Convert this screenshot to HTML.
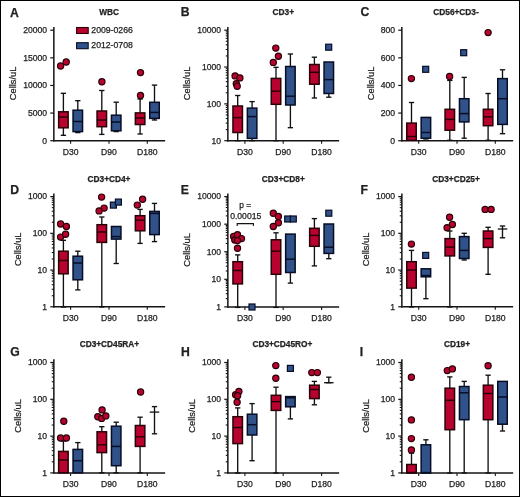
<!DOCTYPE html>
<html><head><meta charset="utf-8"><style>
html,body{margin:0;padding:0;background:#fff;}
body{width:520px;height:497px;overflow:hidden;}
svg{display:block;will-change:transform;}
text{font-family:"Liberation Sans",sans-serif;fill:#222;stroke:#222;stroke-width:0.25px;}
</style></head><body>
<svg width="520" height="497" viewBox="0 0 520 497">
<rect x="0" y="0" width="520" height="497" fill="#fff"/>
<g>
<text x="10" y="16.5" font-size="12.2" text-anchor="start" font-weight="bold" >A</text>
<text x="109.2" y="14.6" font-size="8.3" text-anchor="middle" font-weight="bold" >WBC</text>
<text x="0" y="0" font-size="9.3" text-anchor="middle" transform="translate(16.2,83.4) rotate(-90)">Cells/uL</text>
<line x1="53.85" y1="27" x2="53.85" y2="141.4" stroke="#141414" stroke-width="1.5"/>
<line x1="53.15" y1="140.7" x2="165.15" y2="140.7" stroke="#141414" stroke-width="1.5"/>
<line x1="70.6" y1="140.7" x2="70.6" y2="143.7" stroke="#141414" stroke-width="1.1"/>
<text x="70.6" y="154.7" font-size="8.6" text-anchor="middle" font-weight="normal" >D30</text>
<line x1="109" y1="140.7" x2="109" y2="143.7" stroke="#141414" stroke-width="1.1"/>
<text x="109" y="154.7" font-size="8.6" text-anchor="middle" font-weight="normal" >D90</text>
<line x1="147.3" y1="140.7" x2="147.3" y2="143.7" stroke="#141414" stroke-width="1.1"/>
<text x="147.3" y="154.7" font-size="8.6" text-anchor="middle" font-weight="normal" >D180</text>
<line x1="50.25" y1="140.7" x2="53.85" y2="140.7" stroke="#141414" stroke-width="1.2"/>
<text x="47.05" y="143.5" font-size="8.6" text-anchor="end" font-weight="normal" >0</text>
<line x1="50.25" y1="113.07" x2="53.85" y2="113.07" stroke="#141414" stroke-width="1.2"/>
<text x="47.05" y="115.87" font-size="8.6" text-anchor="end" font-weight="normal" >5000</text>
<line x1="50.25" y1="85.45" x2="53.85" y2="85.45" stroke="#141414" stroke-width="1.2"/>
<text x="47.05" y="88.25" font-size="8.6" text-anchor="end" font-weight="normal" >10000</text>
<line x1="50.25" y1="57.83" x2="53.85" y2="57.83" stroke="#141414" stroke-width="1.2"/>
<text x="47.05" y="60.62" font-size="8.6" text-anchor="end" font-weight="normal" >15000</text>
<line x1="50.25" y1="30.2" x2="53.85" y2="30.2" stroke="#141414" stroke-width="1.2"/>
<text x="47.05" y="33" font-size="8.6" text-anchor="end" font-weight="normal" >20000</text>
<line x1="63.4" y1="93.3" x2="63.4" y2="111.8" stroke="#111" stroke-width="1.35"/>
<line x1="60.75" y1="93.3" x2="66.05" y2="93.3" stroke="#111" stroke-width="1.35"/>
<line x1="63.4" y1="127.8" x2="63.4" y2="135.3" stroke="#111" stroke-width="1.35"/>
<line x1="60.75" y1="135.3" x2="66.05" y2="135.3" stroke="#111" stroke-width="1.35"/>
<rect x="58.65" y="111.8" width="9.5" height="16" fill="#b8032f" stroke="#2a0008" stroke-width="1.5"/>
<line x1="58.65" y1="117" x2="68.15" y2="117" stroke="#2a0008" stroke-width="1.5"/>
<circle cx="60.6" cy="66" r="3.1" fill="#b8032f" stroke="#2a0008" stroke-width="1.2"/>
<circle cx="66.2" cy="62" r="3.1" fill="#b8032f" stroke="#2a0008" stroke-width="1.2"/>
<line x1="77.8" y1="100.7" x2="77.8" y2="110.2" stroke="#111" stroke-width="1.35"/>
<line x1="75.15" y1="100.7" x2="80.45" y2="100.7" stroke="#111" stroke-width="1.35"/>
<line x1="77.8" y1="131.6" x2="77.8" y2="132.6" stroke="#111" stroke-width="1.35"/>
<line x1="75.15" y1="132.6" x2="80.45" y2="132.6" stroke="#111" stroke-width="1.35"/>
<rect x="73.05" y="110.2" width="9.5" height="21.4" fill="#315288" stroke="#070d26" stroke-width="1.5"/>
<line x1="73.05" y1="121.5" x2="82.55" y2="121.5" stroke="#070d26" stroke-width="1.5"/>
<line x1="101.8" y1="90.5" x2="101.8" y2="111" stroke="#111" stroke-width="1.35"/>
<line x1="99.15" y1="90.5" x2="104.45" y2="90.5" stroke="#111" stroke-width="1.35"/>
<line x1="101.8" y1="126.7" x2="101.8" y2="134.4" stroke="#111" stroke-width="1.35"/>
<line x1="99.15" y1="134.4" x2="104.45" y2="134.4" stroke="#111" stroke-width="1.35"/>
<rect x="97.05" y="111" width="9.5" height="15.7" fill="#b8032f" stroke="#2a0008" stroke-width="1.5"/>
<line x1="97.05" y1="120" x2="106.55" y2="120" stroke="#2a0008" stroke-width="1.5"/>
<circle cx="101.9" cy="81.8" r="3.1" fill="#b8032f" stroke="#2a0008" stroke-width="1.2"/>
<line x1="116.2" y1="102.2" x2="116.2" y2="115.2" stroke="#111" stroke-width="1.35"/>
<line x1="113.55" y1="102.2" x2="118.85" y2="102.2" stroke="#111" stroke-width="1.35"/>
<line x1="116.2" y1="130.8" x2="116.2" y2="131.6" stroke="#111" stroke-width="1.35"/>
<line x1="113.55" y1="131.6" x2="118.85" y2="131.6" stroke="#111" stroke-width="1.35"/>
<rect x="111.45" y="115.2" width="9.5" height="15.6" fill="#315288" stroke="#070d26" stroke-width="1.5"/>
<line x1="111.45" y1="122" x2="120.95" y2="122" stroke="#070d26" stroke-width="1.5"/>
<line x1="140.1" y1="99" x2="140.1" y2="112.9" stroke="#111" stroke-width="1.35"/>
<line x1="137.45" y1="99" x2="142.75" y2="99" stroke="#111" stroke-width="1.35"/>
<line x1="140.1" y1="124.5" x2="140.1" y2="134" stroke="#111" stroke-width="1.35"/>
<line x1="137.45" y1="134" x2="142.75" y2="134" stroke="#111" stroke-width="1.35"/>
<rect x="135.35" y="112.9" width="9.5" height="11.6" fill="#b8032f" stroke="#2a0008" stroke-width="1.5"/>
<line x1="135.35" y1="118" x2="144.85" y2="118" stroke="#2a0008" stroke-width="1.5"/>
<circle cx="140.5" cy="95.5" r="3.1" fill="#b8032f" stroke="#2a0008" stroke-width="1.2"/>
<circle cx="140.5" cy="72.6" r="3.1" fill="#b8032f" stroke="#2a0008" stroke-width="1.2"/>
<line x1="154.5" y1="85.1" x2="154.5" y2="102.3" stroke="#111" stroke-width="1.35"/>
<line x1="151.85" y1="85.1" x2="157.15" y2="85.1" stroke="#111" stroke-width="1.35"/>
<line x1="154.5" y1="118.4" x2="154.5" y2="120" stroke="#111" stroke-width="1.35"/>
<line x1="151.85" y1="120" x2="157.15" y2="120" stroke="#111" stroke-width="1.35"/>
<rect x="149.75" y="102.3" width="9.5" height="16.1" fill="#315288" stroke="#070d26" stroke-width="1.5"/>
<line x1="149.75" y1="112.4" x2="159.25" y2="112.4" stroke="#070d26" stroke-width="1.5"/>
<rect x="76.6" y="27.5" width="11.6" height="6" fill="#b8032f" stroke="#2a0008" stroke-width="1.1"/>
<rect x="76.6" y="42.7" width="11.6" height="6" fill="#315288" stroke="#070d26" stroke-width="1.1"/>
<text x="91.3" y="33.1" font-size="8.7">2009-0266</text>
<text x="91.3" y="48.3" font-size="8.7">2012-0708</text>
</g>
<g>
<text x="180.7" y="16.4" font-size="12.2" text-anchor="start" font-weight="bold" >B</text>
<text x="283.3" y="14.6" font-size="8.3" text-anchor="middle" font-weight="bold" >CD3+</text>
<text x="0" y="0" font-size="9.3" text-anchor="middle" transform="translate(190.1,83.4) rotate(-90)">Cells/uL</text>
<line x1="227.85" y1="27" x2="227.85" y2="141.4" stroke="#141414" stroke-width="1.5"/>
<line x1="227.15" y1="140.7" x2="339.15" y2="140.7" stroke="#141414" stroke-width="1.5"/>
<line x1="244.9" y1="140.7" x2="244.9" y2="143.7" stroke="#141414" stroke-width="1.1"/>
<text x="244.9" y="154.7" font-size="8.6" text-anchor="middle" font-weight="normal" >D30</text>
<line x1="283.2" y1="140.7" x2="283.2" y2="143.7" stroke="#141414" stroke-width="1.1"/>
<text x="283.2" y="154.7" font-size="8.6" text-anchor="middle" font-weight="normal" >D90</text>
<line x1="321.6" y1="140.7" x2="321.6" y2="143.7" stroke="#141414" stroke-width="1.1"/>
<text x="321.6" y="154.7" font-size="8.6" text-anchor="middle" font-weight="normal" >D180</text>
<line x1="224.25" y1="140.7" x2="227.85" y2="140.7" stroke="#141414" stroke-width="1.2"/>
<text x="221.05" y="143.5" font-size="8.6" text-anchor="end" font-weight="normal" >10</text>
<line x1="225.75" y1="129.61" x2="227.85" y2="129.61" stroke="#141414" stroke-width="1.1"/>
<line x1="225.75" y1="123.13" x2="227.85" y2="123.13" stroke="#141414" stroke-width="1.1"/>
<line x1="225.75" y1="118.52" x2="227.85" y2="118.52" stroke="#141414" stroke-width="1.1"/>
<line x1="225.75" y1="114.95" x2="227.85" y2="114.95" stroke="#141414" stroke-width="1.1"/>
<line x1="225.75" y1="112.04" x2="227.85" y2="112.04" stroke="#141414" stroke-width="1.1"/>
<line x1="225.75" y1="109.57" x2="227.85" y2="109.57" stroke="#141414" stroke-width="1.1"/>
<line x1="225.75" y1="107.44" x2="227.85" y2="107.44" stroke="#141414" stroke-width="1.1"/>
<line x1="225.75" y1="105.55" x2="227.85" y2="105.55" stroke="#141414" stroke-width="1.1"/>
<line x1="224.25" y1="103.87" x2="227.85" y2="103.87" stroke="#141414" stroke-width="1.2"/>
<text x="221.05" y="106.67" font-size="8.6" text-anchor="end" font-weight="normal" >100</text>
<line x1="225.75" y1="92.78" x2="227.85" y2="92.78" stroke="#141414" stroke-width="1.1"/>
<line x1="225.75" y1="86.29" x2="227.85" y2="86.29" stroke="#141414" stroke-width="1.1"/>
<line x1="225.75" y1="81.69" x2="227.85" y2="81.69" stroke="#141414" stroke-width="1.1"/>
<line x1="225.75" y1="78.12" x2="227.85" y2="78.12" stroke="#141414" stroke-width="1.1"/>
<line x1="225.75" y1="75.2" x2="227.85" y2="75.2" stroke="#141414" stroke-width="1.1"/>
<line x1="225.75" y1="72.74" x2="227.85" y2="72.74" stroke="#141414" stroke-width="1.1"/>
<line x1="225.75" y1="70.6" x2="227.85" y2="70.6" stroke="#141414" stroke-width="1.1"/>
<line x1="225.75" y1="68.72" x2="227.85" y2="68.72" stroke="#141414" stroke-width="1.1"/>
<line x1="224.25" y1="67.03" x2="227.85" y2="67.03" stroke="#141414" stroke-width="1.2"/>
<text x="221.05" y="69.83" font-size="8.6" text-anchor="end" font-weight="normal" >1000</text>
<line x1="225.75" y1="55.95" x2="227.85" y2="55.95" stroke="#141414" stroke-width="1.1"/>
<line x1="225.75" y1="49.46" x2="227.85" y2="49.46" stroke="#141414" stroke-width="1.1"/>
<line x1="225.75" y1="44.86" x2="227.85" y2="44.86" stroke="#141414" stroke-width="1.1"/>
<line x1="225.75" y1="41.29" x2="227.85" y2="41.29" stroke="#141414" stroke-width="1.1"/>
<line x1="225.75" y1="38.37" x2="227.85" y2="38.37" stroke="#141414" stroke-width="1.1"/>
<line x1="225.75" y1="35.91" x2="227.85" y2="35.91" stroke="#141414" stroke-width="1.1"/>
<line x1="225.75" y1="33.77" x2="227.85" y2="33.77" stroke="#141414" stroke-width="1.1"/>
<line x1="225.75" y1="31.89" x2="227.85" y2="31.89" stroke="#141414" stroke-width="1.1"/>
<line x1="224.25" y1="30.2" x2="227.85" y2="30.2" stroke="#141414" stroke-width="1.2"/>
<text x="221.05" y="33" font-size="8.6" text-anchor="end" font-weight="normal" >10000</text>
<line x1="237.7" y1="95.5" x2="237.7" y2="106" stroke="#111" stroke-width="1.35"/>
<line x1="235.05" y1="95.5" x2="240.35" y2="95.5" stroke="#111" stroke-width="1.35"/>
<line x1="237.7" y1="132.5" x2="237.7" y2="140.7" stroke="#111" stroke-width="1.35"/>
<line x1="235.05" y1="140.7" x2="240.35" y2="140.7" stroke="#111" stroke-width="1.35"/>
<rect x="232.95" y="106" width="9.5" height="26.5" fill="#b8032f" stroke="#2a0008" stroke-width="1.5"/>
<line x1="232.95" y1="117.6" x2="242.45" y2="117.6" stroke="#2a0008" stroke-width="1.5"/>
<circle cx="235.1" cy="75.9" r="3.1" fill="#b8032f" stroke="#2a0008" stroke-width="1.2"/>
<circle cx="239.9" cy="77.9" r="3.1" fill="#b8032f" stroke="#2a0008" stroke-width="1.2"/>
<circle cx="236.3" cy="83.7" r="3.1" fill="#b8032f" stroke="#2a0008" stroke-width="1.2"/>
<circle cx="237.2" cy="86.3" r="3.1" fill="#b8032f" stroke="#2a0008" stroke-width="1.2"/>
<line x1="252.1" y1="101.6" x2="252.1" y2="108.1" stroke="#111" stroke-width="1.35"/>
<line x1="249.45" y1="101.6" x2="254.75" y2="101.6" stroke="#111" stroke-width="1.35"/>
<line x1="252.1" y1="138.4" x2="252.1" y2="140.7" stroke="#111" stroke-width="1.35"/>
<line x1="249.45" y1="140.7" x2="254.75" y2="140.7" stroke="#111" stroke-width="1.35"/>
<rect x="247.35" y="108.1" width="9.5" height="30.3" fill="#315288" stroke="#070d26" stroke-width="1.5"/>
<line x1="247.35" y1="116.6" x2="256.85" y2="116.6" stroke="#070d26" stroke-width="1.5"/>
<line x1="276" y1="67.3" x2="276" y2="78.4" stroke="#111" stroke-width="1.35"/>
<line x1="273.35" y1="67.3" x2="278.65" y2="67.3" stroke="#111" stroke-width="1.35"/>
<line x1="276" y1="104.3" x2="276" y2="140.7" stroke="#111" stroke-width="1.35"/>
<line x1="273.35" y1="140.7" x2="278.65" y2="140.7" stroke="#111" stroke-width="1.35"/>
<rect x="271.25" y="78.4" width="9.5" height="25.9" fill="#b8032f" stroke="#2a0008" stroke-width="1.5"/>
<line x1="271.25" y1="91.2" x2="280.75" y2="91.2" stroke="#2a0008" stroke-width="1.5"/>
<circle cx="275.8" cy="48.1" r="3.1" fill="#b8032f" stroke="#2a0008" stroke-width="1.2"/>
<circle cx="278.4" cy="56.2" r="3.1" fill="#b8032f" stroke="#2a0008" stroke-width="1.2"/>
<circle cx="273.3" cy="62.4" r="3.1" fill="#b8032f" stroke="#2a0008" stroke-width="1.2"/>
<line x1="290.4" y1="54" x2="290.4" y2="66.5" stroke="#111" stroke-width="1.35"/>
<line x1="287.75" y1="54" x2="293.05" y2="54" stroke="#111" stroke-width="1.35"/>
<line x1="290.4" y1="105" x2="290.4" y2="127.7" stroke="#111" stroke-width="1.35"/>
<line x1="287.75" y1="127.7" x2="293.05" y2="127.7" stroke="#111" stroke-width="1.35"/>
<rect x="285.65" y="66.5" width="9.5" height="38.5" fill="#315288" stroke="#070d26" stroke-width="1.5"/>
<line x1="285.65" y1="96.2" x2="295.15" y2="96.2" stroke="#070d26" stroke-width="1.5"/>
<line x1="314.4" y1="57.2" x2="314.4" y2="64.5" stroke="#111" stroke-width="1.35"/>
<line x1="311.75" y1="57.2" x2="317.05" y2="57.2" stroke="#111" stroke-width="1.35"/>
<line x1="314.4" y1="84.2" x2="314.4" y2="98" stroke="#111" stroke-width="1.35"/>
<line x1="311.75" y1="98" x2="317.05" y2="98" stroke="#111" stroke-width="1.35"/>
<rect x="309.65" y="64.5" width="9.5" height="19.7" fill="#b8032f" stroke="#2a0008" stroke-width="1.5"/>
<line x1="309.65" y1="72.3" x2="319.15" y2="72.3" stroke="#2a0008" stroke-width="1.5"/>
<line x1="328.8" y1="93.5" x2="328.8" y2="97.2" stroke="#111" stroke-width="1.35"/>
<line x1="326.15" y1="97.2" x2="331.45" y2="97.2" stroke="#111" stroke-width="1.35"/>
<rect x="324.05" y="62" width="9.5" height="31.5" fill="#315288" stroke="#070d26" stroke-width="1.5"/>
<line x1="324.05" y1="79.6" x2="333.55" y2="79.6" stroke="#070d26" stroke-width="1.5"/>
<rect x="325.7" y="44.2" width="6.0" height="6.0" fill="#315288" stroke="#070d26" stroke-width="1.2"/>
</g>
<g>
<text x="360.5" y="16.3" font-size="12.2" text-anchor="start" font-weight="bold" >C</text>
<text x="456" y="14.6" font-size="8.3" text-anchor="middle" font-weight="bold" >CD56+CD3-</text>
<text x="0" y="0" font-size="9.3" text-anchor="middle" transform="translate(373.9,83.4) rotate(-90)">Cells/uL</text>
<line x1="401.85" y1="27" x2="401.85" y2="141.4" stroke="#141414" stroke-width="1.5"/>
<line x1="401.15" y1="140.7" x2="513.15" y2="140.7" stroke="#141414" stroke-width="1.5"/>
<line x1="418.7" y1="140.7" x2="418.7" y2="143.7" stroke="#141414" stroke-width="1.1"/>
<text x="418.7" y="154.7" font-size="8.6" text-anchor="middle" font-weight="normal" >D30</text>
<line x1="457" y1="140.7" x2="457" y2="143.7" stroke="#141414" stroke-width="1.1"/>
<text x="457" y="154.7" font-size="8.6" text-anchor="middle" font-weight="normal" >D90</text>
<line x1="495.3" y1="140.7" x2="495.3" y2="143.7" stroke="#141414" stroke-width="1.1"/>
<text x="495.3" y="154.7" font-size="8.6" text-anchor="middle" font-weight="normal" >D180</text>
<line x1="398.25" y1="140.7" x2="401.85" y2="140.7" stroke="#141414" stroke-width="1.2"/>
<text x="395.05" y="143.5" font-size="8.6" text-anchor="end" font-weight="normal" >0</text>
<line x1="398.25" y1="113.07" x2="401.85" y2="113.07" stroke="#141414" stroke-width="1.2"/>
<text x="395.05" y="115.87" font-size="8.6" text-anchor="end" font-weight="normal" >200</text>
<line x1="398.25" y1="85.45" x2="401.85" y2="85.45" stroke="#141414" stroke-width="1.2"/>
<text x="395.05" y="88.25" font-size="8.6" text-anchor="end" font-weight="normal" >400</text>
<line x1="398.25" y1="57.83" x2="401.85" y2="57.83" stroke="#141414" stroke-width="1.2"/>
<text x="395.05" y="60.62" font-size="8.6" text-anchor="end" font-weight="normal" >600</text>
<line x1="398.25" y1="30.2" x2="401.85" y2="30.2" stroke="#141414" stroke-width="1.2"/>
<text x="395.05" y="33" font-size="8.6" text-anchor="end" font-weight="normal" >800</text>
<line x1="411.5" y1="102.5" x2="411.5" y2="123.1" stroke="#111" stroke-width="1.35"/>
<line x1="408.85" y1="102.5" x2="414.15" y2="102.5" stroke="#111" stroke-width="1.35"/>
<rect x="406.75" y="123.1" width="9.5" height="17.2" fill="#b8032f" stroke="#2a0008" stroke-width="1.5"/>
<line x1="406.75" y1="136.5" x2="416.25" y2="136.5" stroke="#2a0008" stroke-width="1.5"/>
<circle cx="411.4" cy="78.6" r="3.1" fill="#b8032f" stroke="#2a0008" stroke-width="1.2"/>
<line x1="425.9" y1="138.2" x2="425.9" y2="139" stroke="#111" stroke-width="1.35"/>
<line x1="423.25" y1="139" x2="428.55" y2="139" stroke="#111" stroke-width="1.35"/>
<rect x="421.15" y="117.4" width="9.5" height="20.8" fill="#315288" stroke="#070d26" stroke-width="1.5"/>
<line x1="421.15" y1="132.5" x2="430.65" y2="132.5" stroke="#070d26" stroke-width="1.5"/>
<rect x="422.7" y="66.3" width="6.0" height="6.0" fill="#315288" stroke="#070d26" stroke-width="1.2"/>
<line x1="449.8" y1="80.4" x2="449.8" y2="109.3" stroke="#111" stroke-width="1.35"/>
<line x1="447.15" y1="80.4" x2="452.45" y2="80.4" stroke="#111" stroke-width="1.35"/>
<line x1="449.8" y1="130.2" x2="449.8" y2="140.3" stroke="#111" stroke-width="1.35"/>
<line x1="447.15" y1="140.3" x2="452.45" y2="140.3" stroke="#111" stroke-width="1.35"/>
<rect x="445.05" y="109.3" width="9.5" height="20.9" fill="#b8032f" stroke="#2a0008" stroke-width="1.5"/>
<line x1="445.05" y1="119.4" x2="454.55" y2="119.4" stroke="#2a0008" stroke-width="1.5"/>
<circle cx="449.6" cy="76.4" r="3.1" fill="#b8032f" stroke="#2a0008" stroke-width="1.2"/>
<line x1="464.2" y1="77.4" x2="464.2" y2="98.7" stroke="#111" stroke-width="1.35"/>
<line x1="461.55" y1="77.4" x2="466.85" y2="77.4" stroke="#111" stroke-width="1.35"/>
<line x1="464.2" y1="121.9" x2="464.2" y2="138.2" stroke="#111" stroke-width="1.35"/>
<line x1="461.55" y1="138.2" x2="466.85" y2="138.2" stroke="#111" stroke-width="1.35"/>
<rect x="459.45" y="98.7" width="9.5" height="23.2" fill="#315288" stroke="#070d26" stroke-width="1.5"/>
<line x1="459.45" y1="113.6" x2="468.95" y2="113.6" stroke="#070d26" stroke-width="1.5"/>
<rect x="460.7" y="49.7" width="6.0" height="6.0" fill="#315288" stroke="#070d26" stroke-width="1.2"/>
<line x1="488.1" y1="93.5" x2="488.1" y2="109.3" stroke="#111" stroke-width="1.35"/>
<line x1="485.45" y1="93.5" x2="490.75" y2="93.5" stroke="#111" stroke-width="1.35"/>
<line x1="488.1" y1="125.7" x2="488.1" y2="140.3" stroke="#111" stroke-width="1.35"/>
<line x1="485.45" y1="140.3" x2="490.75" y2="140.3" stroke="#111" stroke-width="1.35"/>
<rect x="483.35" y="109.3" width="9.5" height="16.4" fill="#b8032f" stroke="#2a0008" stroke-width="1.5"/>
<line x1="483.35" y1="116.9" x2="492.85" y2="116.9" stroke="#2a0008" stroke-width="1.5"/>
<circle cx="488.1" cy="32.6" r="3.1" fill="#b8032f" stroke="#2a0008" stroke-width="1.2"/>
<line x1="502.5" y1="69.8" x2="502.5" y2="78.6" stroke="#111" stroke-width="1.35"/>
<line x1="499.85" y1="69.8" x2="505.15" y2="69.8" stroke="#111" stroke-width="1.35"/>
<line x1="502.5" y1="124.4" x2="502.5" y2="133.7" stroke="#111" stroke-width="1.35"/>
<line x1="499.85" y1="133.7" x2="505.15" y2="133.7" stroke="#111" stroke-width="1.35"/>
<rect x="497.75" y="78.6" width="9.5" height="45.8" fill="#315288" stroke="#070d26" stroke-width="1.5"/>
<line x1="497.75" y1="98.7" x2="507.25" y2="98.7" stroke="#070d26" stroke-width="1.5"/>
</g>
<g>
<text x="10.3" y="193.8" font-size="12.2" text-anchor="start" font-weight="bold" >D</text>
<text x="109" y="181.5" font-size="8.3" text-anchor="middle" font-weight="bold" >CD3+CD4+</text>
<text x="0" y="0" font-size="9.3" text-anchor="middle" transform="translate(21,249.3) rotate(-90)">Cells/uL</text>
<line x1="53.85" y1="193.4" x2="53.85" y2="307.5" stroke="#141414" stroke-width="1.5"/>
<line x1="53.15" y1="306.8" x2="165.15" y2="306.8" stroke="#141414" stroke-width="1.5"/>
<line x1="70.6" y1="306.8" x2="70.6" y2="309.8" stroke="#141414" stroke-width="1.1"/>
<text x="70.6" y="320.8" font-size="8.6" text-anchor="middle" font-weight="normal" >D30</text>
<line x1="109" y1="306.8" x2="109" y2="309.8" stroke="#141414" stroke-width="1.1"/>
<text x="109" y="320.8" font-size="8.6" text-anchor="middle" font-weight="normal" >D90</text>
<line x1="147.3" y1="306.8" x2="147.3" y2="309.8" stroke="#141414" stroke-width="1.1"/>
<text x="147.3" y="320.8" font-size="8.6" text-anchor="middle" font-weight="normal" >D180</text>
<line x1="50.25" y1="306.8" x2="53.85" y2="306.8" stroke="#141414" stroke-width="1.2"/>
<text x="47.05" y="309.6" font-size="8.6" text-anchor="end" font-weight="normal" >1</text>
<line x1="51.75" y1="295.74" x2="53.85" y2="295.74" stroke="#141414" stroke-width="1.1"/>
<line x1="51.75" y1="289.27" x2="53.85" y2="289.27" stroke="#141414" stroke-width="1.1"/>
<line x1="51.75" y1="284.68" x2="53.85" y2="284.68" stroke="#141414" stroke-width="1.1"/>
<line x1="51.75" y1="281.12" x2="53.85" y2="281.12" stroke="#141414" stroke-width="1.1"/>
<line x1="51.75" y1="278.22" x2="53.85" y2="278.22" stroke="#141414" stroke-width="1.1"/>
<line x1="51.75" y1="275.76" x2="53.85" y2="275.76" stroke="#141414" stroke-width="1.1"/>
<line x1="51.75" y1="273.63" x2="53.85" y2="273.63" stroke="#141414" stroke-width="1.1"/>
<line x1="51.75" y1="271.75" x2="53.85" y2="271.75" stroke="#141414" stroke-width="1.1"/>
<line x1="50.25" y1="270.07" x2="53.85" y2="270.07" stroke="#141414" stroke-width="1.2"/>
<text x="47.05" y="272.87" font-size="8.6" text-anchor="end" font-weight="normal" >10</text>
<line x1="51.75" y1="259.01" x2="53.85" y2="259.01" stroke="#141414" stroke-width="1.1"/>
<line x1="51.75" y1="252.54" x2="53.85" y2="252.54" stroke="#141414" stroke-width="1.1"/>
<line x1="51.75" y1="247.95" x2="53.85" y2="247.95" stroke="#141414" stroke-width="1.1"/>
<line x1="51.75" y1="244.39" x2="53.85" y2="244.39" stroke="#141414" stroke-width="1.1"/>
<line x1="51.75" y1="241.48" x2="53.85" y2="241.48" stroke="#141414" stroke-width="1.1"/>
<line x1="51.75" y1="239.02" x2="53.85" y2="239.02" stroke="#141414" stroke-width="1.1"/>
<line x1="51.75" y1="236.89" x2="53.85" y2="236.89" stroke="#141414" stroke-width="1.1"/>
<line x1="51.75" y1="235.01" x2="53.85" y2="235.01" stroke="#141414" stroke-width="1.1"/>
<line x1="50.25" y1="233.33" x2="53.85" y2="233.33" stroke="#141414" stroke-width="1.2"/>
<text x="47.05" y="236.13" font-size="8.6" text-anchor="end" font-weight="normal" >100</text>
<line x1="51.75" y1="222.28" x2="53.85" y2="222.28" stroke="#141414" stroke-width="1.1"/>
<line x1="51.75" y1="215.81" x2="53.85" y2="215.81" stroke="#141414" stroke-width="1.1"/>
<line x1="51.75" y1="211.22" x2="53.85" y2="211.22" stroke="#141414" stroke-width="1.1"/>
<line x1="51.75" y1="207.66" x2="53.85" y2="207.66" stroke="#141414" stroke-width="1.1"/>
<line x1="51.75" y1="204.75" x2="53.85" y2="204.75" stroke="#141414" stroke-width="1.1"/>
<line x1="51.75" y1="202.29" x2="53.85" y2="202.29" stroke="#141414" stroke-width="1.1"/>
<line x1="51.75" y1="200.16" x2="53.85" y2="200.16" stroke="#141414" stroke-width="1.1"/>
<line x1="51.75" y1="198.28" x2="53.85" y2="198.28" stroke="#141414" stroke-width="1.1"/>
<line x1="50.25" y1="196.6" x2="53.85" y2="196.6" stroke="#141414" stroke-width="1.2"/>
<text x="47.05" y="199.4" font-size="8.6" text-anchor="end" font-weight="normal" >1000</text>
<line x1="63.4" y1="240.3" x2="63.4" y2="251.2" stroke="#111" stroke-width="1.35"/>
<line x1="60.75" y1="240.3" x2="66.05" y2="240.3" stroke="#111" stroke-width="1.35"/>
<line x1="63.4" y1="273.8" x2="63.4" y2="307" stroke="#111" stroke-width="1.35"/>
<line x1="60.75" y1="307" x2="66.05" y2="307" stroke="#111" stroke-width="1.35"/>
<rect x="58.65" y="251.2" width="9.5" height="22.6" fill="#b8032f" stroke="#2a0008" stroke-width="1.5"/>
<line x1="58.65" y1="260.5" x2="68.15" y2="260.5" stroke="#2a0008" stroke-width="1.5"/>
<circle cx="60.6" cy="224" r="3.1" fill="#b8032f" stroke="#2a0008" stroke-width="1.2"/>
<circle cx="66.4" cy="226.5" r="3.1" fill="#b8032f" stroke="#2a0008" stroke-width="1.2"/>
<circle cx="60.6" cy="237.1" r="3.1" fill="#b8032f" stroke="#2a0008" stroke-width="1.2"/>
<circle cx="65.6" cy="234.3" r="3.1" fill="#b8032f" stroke="#2a0008" stroke-width="1.2"/>
<line x1="77.8" y1="251.2" x2="77.8" y2="256.2" stroke="#111" stroke-width="1.35"/>
<line x1="75.15" y1="251.2" x2="80.45" y2="251.2" stroke="#111" stroke-width="1.35"/>
<line x1="77.8" y1="279.8" x2="77.8" y2="289.9" stroke="#111" stroke-width="1.35"/>
<line x1="75.15" y1="289.9" x2="80.45" y2="289.9" stroke="#111" stroke-width="1.35"/>
<rect x="73.05" y="256.2" width="9.5" height="23.6" fill="#315288" stroke="#070d26" stroke-width="1.5"/>
<line x1="73.05" y1="263" x2="82.55" y2="263" stroke="#070d26" stroke-width="1.5"/>
<line x1="101.8" y1="217" x2="101.8" y2="224.7" stroke="#111" stroke-width="1.35"/>
<line x1="99.15" y1="217" x2="104.45" y2="217" stroke="#111" stroke-width="1.35"/>
<line x1="101.8" y1="242.4" x2="101.8" y2="307" stroke="#111" stroke-width="1.35"/>
<line x1="99.15" y1="307" x2="104.45" y2="307" stroke="#111" stroke-width="1.35"/>
<rect x="97.05" y="224.7" width="9.5" height="17.7" fill="#b8032f" stroke="#2a0008" stroke-width="1.5"/>
<line x1="97.05" y1="232" x2="106.55" y2="232" stroke="#2a0008" stroke-width="1.5"/>
<circle cx="101.6" cy="197.1" r="3.1" fill="#b8032f" stroke="#2a0008" stroke-width="1.2"/>
<circle cx="104.1" cy="208.1" r="3.1" fill="#b8032f" stroke="#2a0008" stroke-width="1.2"/>
<circle cx="99.1" cy="210.9" r="3.1" fill="#b8032f" stroke="#2a0008" stroke-width="1.2"/>
<line x1="116.2" y1="239.1" x2="116.2" y2="263.5" stroke="#111" stroke-width="1.35"/>
<line x1="113.55" y1="263.5" x2="118.85" y2="263.5" stroke="#111" stroke-width="1.35"/>
<rect x="111.45" y="226.5" width="9.5" height="12.6" fill="#315288" stroke="#070d26" stroke-width="1.5"/>
<line x1="111.45" y1="236.6" x2="120.95" y2="236.6" stroke="#070d26" stroke-width="1.5"/>
<rect x="110.4" y="202.1" width="6.0" height="6.0" fill="#315288" stroke="#070d26" stroke-width="1.2"/>
<rect x="115.4" y="199.1" width="6.0" height="6.0" fill="#315288" stroke="#070d26" stroke-width="1.2"/>
<line x1="140.1" y1="209.4" x2="140.1" y2="215.7" stroke="#111" stroke-width="1.35"/>
<line x1="137.45" y1="209.4" x2="142.75" y2="209.4" stroke="#111" stroke-width="1.35"/>
<line x1="140.1" y1="230.8" x2="140.1" y2="243.4" stroke="#111" stroke-width="1.35"/>
<line x1="137.45" y1="243.4" x2="142.75" y2="243.4" stroke="#111" stroke-width="1.35"/>
<rect x="135.35" y="215.7" width="9.5" height="15.1" fill="#b8032f" stroke="#2a0008" stroke-width="1.5"/>
<line x1="135.35" y1="220.2" x2="144.85" y2="220.2" stroke="#2a0008" stroke-width="1.5"/>
<circle cx="137.3" cy="205.1" r="3.1" fill="#b8032f" stroke="#2a0008" stroke-width="1.2"/>
<circle cx="142.6" cy="199.3" r="3.1" fill="#b8032f" stroke="#2a0008" stroke-width="1.2"/>
<line x1="154.5" y1="203.4" x2="154.5" y2="211.4" stroke="#111" stroke-width="1.35"/>
<line x1="151.85" y1="203.4" x2="157.15" y2="203.4" stroke="#111" stroke-width="1.35"/>
<line x1="154.5" y1="234.6" x2="154.5" y2="241.6" stroke="#111" stroke-width="1.35"/>
<line x1="151.85" y1="241.6" x2="157.15" y2="241.6" stroke="#111" stroke-width="1.35"/>
<rect x="149.75" y="211.4" width="9.5" height="23.2" fill="#315288" stroke="#070d26" stroke-width="1.5"/>
<line x1="149.75" y1="213.4" x2="159.25" y2="213.4" stroke="#070d26" stroke-width="1.5"/>
</g>
<g>
<text x="180.8" y="193.8" font-size="12.2" text-anchor="start" font-weight="bold" >E</text>
<text x="283.3" y="181.5" font-size="8.3" text-anchor="middle" font-weight="bold" >CD3+CD8+</text>
<text x="0" y="0" font-size="9.3" text-anchor="middle" transform="translate(189.9,249.9) rotate(-90)">Cells/uL</text>
<line x1="227.85" y1="193.4" x2="227.85" y2="307.6" stroke="#141414" stroke-width="1.5"/>
<line x1="227.15" y1="306.9" x2="339.15" y2="306.9" stroke="#141414" stroke-width="1.5"/>
<line x1="244.9" y1="306.9" x2="244.9" y2="309.9" stroke="#141414" stroke-width="1.1"/>
<text x="244.9" y="320.9" font-size="8.6" text-anchor="middle" font-weight="normal" >D30</text>
<line x1="283.2" y1="306.9" x2="283.2" y2="309.9" stroke="#141414" stroke-width="1.1"/>
<text x="283.2" y="320.9" font-size="8.6" text-anchor="middle" font-weight="normal" >D90</text>
<line x1="321.6" y1="306.9" x2="321.6" y2="309.9" stroke="#141414" stroke-width="1.1"/>
<text x="321.6" y="320.9" font-size="8.6" text-anchor="middle" font-weight="normal" >D180</text>
<line x1="224.25" y1="306.9" x2="227.85" y2="306.9" stroke="#141414" stroke-width="1.2"/>
<text x="221.05" y="309.7" font-size="8.6" text-anchor="end" font-weight="normal" >1</text>
<line x1="225.75" y1="298.6" x2="227.85" y2="298.6" stroke="#141414" stroke-width="1.1"/>
<line x1="225.75" y1="293.74" x2="227.85" y2="293.74" stroke="#141414" stroke-width="1.1"/>
<line x1="225.75" y1="290.3" x2="227.85" y2="290.3" stroke="#141414" stroke-width="1.1"/>
<line x1="225.75" y1="287.63" x2="227.85" y2="287.63" stroke="#141414" stroke-width="1.1"/>
<line x1="225.75" y1="285.44" x2="227.85" y2="285.44" stroke="#141414" stroke-width="1.1"/>
<line x1="225.75" y1="283.6" x2="227.85" y2="283.6" stroke="#141414" stroke-width="1.1"/>
<line x1="225.75" y1="282" x2="227.85" y2="282" stroke="#141414" stroke-width="1.1"/>
<line x1="225.75" y1="280.59" x2="227.85" y2="280.59" stroke="#141414" stroke-width="1.1"/>
<line x1="224.25" y1="279.32" x2="227.85" y2="279.32" stroke="#141414" stroke-width="1.2"/>
<text x="221.05" y="282.12" font-size="8.6" text-anchor="end" font-weight="normal" >10</text>
<line x1="225.75" y1="271.02" x2="227.85" y2="271.02" stroke="#141414" stroke-width="1.1"/>
<line x1="225.75" y1="266.17" x2="227.85" y2="266.17" stroke="#141414" stroke-width="1.1"/>
<line x1="225.75" y1="262.72" x2="227.85" y2="262.72" stroke="#141414" stroke-width="1.1"/>
<line x1="225.75" y1="260.05" x2="227.85" y2="260.05" stroke="#141414" stroke-width="1.1"/>
<line x1="225.75" y1="257.87" x2="227.85" y2="257.87" stroke="#141414" stroke-width="1.1"/>
<line x1="225.75" y1="256.02" x2="227.85" y2="256.02" stroke="#141414" stroke-width="1.1"/>
<line x1="225.75" y1="254.42" x2="227.85" y2="254.42" stroke="#141414" stroke-width="1.1"/>
<line x1="225.75" y1="253.01" x2="227.85" y2="253.01" stroke="#141414" stroke-width="1.1"/>
<line x1="224.25" y1="251.75" x2="227.85" y2="251.75" stroke="#141414" stroke-width="1.2"/>
<text x="221.05" y="254.55" font-size="8.6" text-anchor="end" font-weight="normal" >100</text>
<line x1="225.75" y1="243.45" x2="227.85" y2="243.45" stroke="#141414" stroke-width="1.1"/>
<line x1="225.75" y1="238.59" x2="227.85" y2="238.59" stroke="#141414" stroke-width="1.1"/>
<line x1="225.75" y1="235.15" x2="227.85" y2="235.15" stroke="#141414" stroke-width="1.1"/>
<line x1="225.75" y1="232.48" x2="227.85" y2="232.48" stroke="#141414" stroke-width="1.1"/>
<line x1="225.75" y1="230.29" x2="227.85" y2="230.29" stroke="#141414" stroke-width="1.1"/>
<line x1="225.75" y1="228.45" x2="227.85" y2="228.45" stroke="#141414" stroke-width="1.1"/>
<line x1="225.75" y1="226.85" x2="227.85" y2="226.85" stroke="#141414" stroke-width="1.1"/>
<line x1="225.75" y1="225.44" x2="227.85" y2="225.44" stroke="#141414" stroke-width="1.1"/>
<line x1="224.25" y1="224.17" x2="227.85" y2="224.17" stroke="#141414" stroke-width="1.2"/>
<text x="221.05" y="226.97" font-size="8.6" text-anchor="end" font-weight="normal" >1000</text>
<line x1="225.75" y1="215.87" x2="227.85" y2="215.87" stroke="#141414" stroke-width="1.1"/>
<line x1="225.75" y1="211.02" x2="227.85" y2="211.02" stroke="#141414" stroke-width="1.1"/>
<line x1="225.75" y1="207.57" x2="227.85" y2="207.57" stroke="#141414" stroke-width="1.1"/>
<line x1="225.75" y1="204.9" x2="227.85" y2="204.9" stroke="#141414" stroke-width="1.1"/>
<line x1="225.75" y1="202.72" x2="227.85" y2="202.72" stroke="#141414" stroke-width="1.1"/>
<line x1="225.75" y1="200.87" x2="227.85" y2="200.87" stroke="#141414" stroke-width="1.1"/>
<line x1="225.75" y1="199.27" x2="227.85" y2="199.27" stroke="#141414" stroke-width="1.1"/>
<line x1="225.75" y1="197.86" x2="227.85" y2="197.86" stroke="#141414" stroke-width="1.1"/>
<line x1="224.25" y1="196.6" x2="227.85" y2="196.6" stroke="#141414" stroke-width="1.2"/>
<text x="221.05" y="199.4" font-size="8.6" text-anchor="end" font-weight="normal" >10000</text>
<line x1="237.7" y1="254.9" x2="237.7" y2="261.7" stroke="#111" stroke-width="1.35"/>
<line x1="235.05" y1="254.9" x2="240.35" y2="254.9" stroke="#111" stroke-width="1.35"/>
<line x1="237.7" y1="283.9" x2="237.7" y2="307.4" stroke="#111" stroke-width="1.35"/>
<line x1="235.05" y1="307.4" x2="240.35" y2="307.4" stroke="#111" stroke-width="1.35"/>
<rect x="232.95" y="261.7" width="9.5" height="22.2" fill="#b8032f" stroke="#2a0008" stroke-width="1.5"/>
<line x1="232.95" y1="270.5" x2="242.45" y2="270.5" stroke="#2a0008" stroke-width="1.5"/>
<circle cx="233.6" cy="236.5" r="3.1" fill="#b8032f" stroke="#2a0008" stroke-width="1.2"/>
<circle cx="234.8" cy="240" r="3.1" fill="#b8032f" stroke="#2a0008" stroke-width="1.2"/>
<circle cx="237.5" cy="234.8" r="3.1" fill="#b8032f" stroke="#2a0008" stroke-width="1.2"/>
<circle cx="241.5" cy="238.6" r="3.1" fill="#b8032f" stroke="#2a0008" stroke-width="1.2"/>
<circle cx="237.5" cy="240.6" r="3.1" fill="#b8032f" stroke="#2a0008" stroke-width="1.2"/>
<circle cx="237.5" cy="248.2" r="3.1" fill="#b8032f" stroke="#2a0008" stroke-width="1.2"/>
<rect x="249" y="304" width="6.0" height="6.0" fill="#315288" stroke="#070d26" stroke-width="1.2"/>
<line x1="276" y1="232.8" x2="276" y2="239.8" stroke="#111" stroke-width="1.35"/>
<line x1="273.35" y1="232.8" x2="278.65" y2="232.8" stroke="#111" stroke-width="1.35"/>
<line x1="276" y1="274.3" x2="276" y2="307.4" stroke="#111" stroke-width="1.35"/>
<line x1="273.35" y1="307.4" x2="278.65" y2="307.4" stroke="#111" stroke-width="1.35"/>
<rect x="271.25" y="239.8" width="9.5" height="34.5" fill="#b8032f" stroke="#2a0008" stroke-width="1.5"/>
<line x1="271.25" y1="251.2" x2="280.75" y2="251.2" stroke="#2a0008" stroke-width="1.5"/>
<circle cx="273.3" cy="213.2" r="3.1" fill="#b8032f" stroke="#2a0008" stroke-width="1.2"/>
<circle cx="278.4" cy="216.4" r="3.1" fill="#b8032f" stroke="#2a0008" stroke-width="1.2"/>
<circle cx="278.4" cy="222.7" r="3.1" fill="#b8032f" stroke="#2a0008" stroke-width="1.2"/>
<circle cx="273.3" cy="226.5" r="3.1" fill="#b8032f" stroke="#2a0008" stroke-width="1.2"/>
<line x1="290.4" y1="272.5" x2="290.4" y2="283.1" stroke="#111" stroke-width="1.35"/>
<line x1="287.75" y1="283.1" x2="293.05" y2="283.1" stroke="#111" stroke-width="1.35"/>
<rect x="285.65" y="234.1" width="9.5" height="38.4" fill="#315288" stroke="#070d26" stroke-width="1.5"/>
<line x1="285.65" y1="259.2" x2="295.15" y2="259.2" stroke="#070d26" stroke-width="1.5"/>
<rect x="284.7" y="216" width="6.0" height="6.0" fill="#315288" stroke="#070d26" stroke-width="1.2"/>
<rect x="290.3" y="216" width="6.0" height="6.0" fill="#315288" stroke="#070d26" stroke-width="1.2"/>
<line x1="314.4" y1="218.6" x2="314.4" y2="228.3" stroke="#111" stroke-width="1.35"/>
<line x1="311.75" y1="218.6" x2="317.05" y2="218.6" stroke="#111" stroke-width="1.35"/>
<line x1="314.4" y1="246.3" x2="314.4" y2="265.9" stroke="#111" stroke-width="1.35"/>
<line x1="311.75" y1="265.9" x2="317.05" y2="265.9" stroke="#111" stroke-width="1.35"/>
<rect x="309.65" y="228.3" width="9.5" height="18" fill="#b8032f" stroke="#2a0008" stroke-width="1.5"/>
<line x1="309.65" y1="235.4" x2="319.15" y2="235.4" stroke="#2a0008" stroke-width="1.5"/>
<line x1="328.8" y1="253.4" x2="328.8" y2="258.7" stroke="#111" stroke-width="1.35"/>
<line x1="326.15" y1="258.7" x2="331.45" y2="258.7" stroke="#111" stroke-width="1.35"/>
<rect x="324.05" y="224" width="9.5" height="29.4" fill="#315288" stroke="#070d26" stroke-width="1.5"/>
<line x1="324.05" y1="247.2" x2="333.55" y2="247.2" stroke="#070d26" stroke-width="1.5"/>
<rect x="325.8" y="210.2" width="6.0" height="6.0" fill="#315288" stroke="#070d26" stroke-width="1.2"/>
<text x="245.1" y="208.0" font-size="8.4" text-anchor="middle">p =</text>
<text x="245.7" y="218.5" font-size="8.6" text-anchor="middle">0.00015</text>
<path d="M237.2 226 V223.6 H253.4 V226" fill="none" stroke="#141414" stroke-width="1.1"/>
</g>
<g>
<text x="360.5" y="194.3" font-size="12.2" text-anchor="start" font-weight="bold" >F</text>
<text x="456" y="181.5" font-size="8.3" text-anchor="middle" font-weight="bold" >CD3+CD25+</text>
<text x="0" y="0" font-size="9.3" text-anchor="middle" transform="translate(369.1,249.4) rotate(-90)">Cells/uL</text>
<line x1="401.85" y1="193.4" x2="401.85" y2="307.5" stroke="#141414" stroke-width="1.5"/>
<line x1="401.15" y1="306.8" x2="513.15" y2="306.8" stroke="#141414" stroke-width="1.5"/>
<line x1="418.7" y1="306.8" x2="418.7" y2="309.8" stroke="#141414" stroke-width="1.1"/>
<text x="418.7" y="320.8" font-size="8.6" text-anchor="middle" font-weight="normal" >D30</text>
<line x1="457" y1="306.8" x2="457" y2="309.8" stroke="#141414" stroke-width="1.1"/>
<text x="457" y="320.8" font-size="8.6" text-anchor="middle" font-weight="normal" >D90</text>
<line x1="495.3" y1="306.8" x2="495.3" y2="309.8" stroke="#141414" stroke-width="1.1"/>
<text x="495.3" y="320.8" font-size="8.6" text-anchor="middle" font-weight="normal" >D180</text>
<line x1="398.25" y1="306.8" x2="401.85" y2="306.8" stroke="#141414" stroke-width="1.2"/>
<text x="395.05" y="309.6" font-size="8.6" text-anchor="end" font-weight="normal" >1</text>
<line x1="399.75" y1="295.74" x2="401.85" y2="295.74" stroke="#141414" stroke-width="1.1"/>
<line x1="399.75" y1="289.27" x2="401.85" y2="289.27" stroke="#141414" stroke-width="1.1"/>
<line x1="399.75" y1="284.68" x2="401.85" y2="284.68" stroke="#141414" stroke-width="1.1"/>
<line x1="399.75" y1="281.12" x2="401.85" y2="281.12" stroke="#141414" stroke-width="1.1"/>
<line x1="399.75" y1="278.22" x2="401.85" y2="278.22" stroke="#141414" stroke-width="1.1"/>
<line x1="399.75" y1="275.76" x2="401.85" y2="275.76" stroke="#141414" stroke-width="1.1"/>
<line x1="399.75" y1="273.63" x2="401.85" y2="273.63" stroke="#141414" stroke-width="1.1"/>
<line x1="399.75" y1="271.75" x2="401.85" y2="271.75" stroke="#141414" stroke-width="1.1"/>
<line x1="398.25" y1="270.07" x2="401.85" y2="270.07" stroke="#141414" stroke-width="1.2"/>
<text x="395.05" y="272.87" font-size="8.6" text-anchor="end" font-weight="normal" >10</text>
<line x1="399.75" y1="259.01" x2="401.85" y2="259.01" stroke="#141414" stroke-width="1.1"/>
<line x1="399.75" y1="252.54" x2="401.85" y2="252.54" stroke="#141414" stroke-width="1.1"/>
<line x1="399.75" y1="247.95" x2="401.85" y2="247.95" stroke="#141414" stroke-width="1.1"/>
<line x1="399.75" y1="244.39" x2="401.85" y2="244.39" stroke="#141414" stroke-width="1.1"/>
<line x1="399.75" y1="241.48" x2="401.85" y2="241.48" stroke="#141414" stroke-width="1.1"/>
<line x1="399.75" y1="239.02" x2="401.85" y2="239.02" stroke="#141414" stroke-width="1.1"/>
<line x1="399.75" y1="236.89" x2="401.85" y2="236.89" stroke="#141414" stroke-width="1.1"/>
<line x1="399.75" y1="235.01" x2="401.85" y2="235.01" stroke="#141414" stroke-width="1.1"/>
<line x1="398.25" y1="233.33" x2="401.85" y2="233.33" stroke="#141414" stroke-width="1.2"/>
<text x="395.05" y="236.13" font-size="8.6" text-anchor="end" font-weight="normal" >100</text>
<line x1="399.75" y1="222.28" x2="401.85" y2="222.28" stroke="#141414" stroke-width="1.1"/>
<line x1="399.75" y1="215.81" x2="401.85" y2="215.81" stroke="#141414" stroke-width="1.1"/>
<line x1="399.75" y1="211.22" x2="401.85" y2="211.22" stroke="#141414" stroke-width="1.1"/>
<line x1="399.75" y1="207.66" x2="401.85" y2="207.66" stroke="#141414" stroke-width="1.1"/>
<line x1="399.75" y1="204.75" x2="401.85" y2="204.75" stroke="#141414" stroke-width="1.1"/>
<line x1="399.75" y1="202.29" x2="401.85" y2="202.29" stroke="#141414" stroke-width="1.1"/>
<line x1="399.75" y1="200.16" x2="401.85" y2="200.16" stroke="#141414" stroke-width="1.1"/>
<line x1="399.75" y1="198.28" x2="401.85" y2="198.28" stroke="#141414" stroke-width="1.1"/>
<line x1="398.25" y1="196.6" x2="401.85" y2="196.6" stroke="#141414" stroke-width="1.2"/>
<text x="395.05" y="199.4" font-size="8.6" text-anchor="end" font-weight="normal" >1000</text>
<line x1="411.5" y1="250.4" x2="411.5" y2="261.7" stroke="#111" stroke-width="1.35"/>
<line x1="408.85" y1="250.4" x2="414.15" y2="250.4" stroke="#111" stroke-width="1.35"/>
<line x1="411.5" y1="288.1" x2="411.5" y2="307" stroke="#111" stroke-width="1.35"/>
<line x1="408.85" y1="307" x2="414.15" y2="307" stroke="#111" stroke-width="1.35"/>
<rect x="406.75" y="261.7" width="9.5" height="26.4" fill="#b8032f" stroke="#2a0008" stroke-width="1.5"/>
<line x1="406.75" y1="270" x2="416.25" y2="270" stroke="#2a0008" stroke-width="1.5"/>
<circle cx="411.4" cy="244.1" r="3.1" fill="#b8032f" stroke="#2a0008" stroke-width="1.2"/>
<line x1="425.9" y1="276.8" x2="425.9" y2="298.7" stroke="#111" stroke-width="1.35"/>
<line x1="423.25" y1="298.7" x2="428.55" y2="298.7" stroke="#111" stroke-width="1.35"/>
<rect x="421.15" y="268.8" width="9.5" height="8" fill="#315288" stroke="#070d26" stroke-width="1.5"/>
<line x1="421.15" y1="275.6" x2="430.65" y2="275.6" stroke="#070d26" stroke-width="1.5"/>
<rect x="422.7" y="252.4" width="6.0" height="6.0" fill="#315288" stroke="#070d26" stroke-width="1.2"/>
<line x1="449.8" y1="231" x2="449.8" y2="238.6" stroke="#111" stroke-width="1.35"/>
<line x1="447.15" y1="231" x2="452.45" y2="231" stroke="#111" stroke-width="1.35"/>
<line x1="449.8" y1="255.9" x2="449.8" y2="307" stroke="#111" stroke-width="1.35"/>
<line x1="447.15" y1="307" x2="452.45" y2="307" stroke="#111" stroke-width="1.35"/>
<rect x="445.05" y="238.6" width="9.5" height="17.3" fill="#b8032f" stroke="#2a0008" stroke-width="1.5"/>
<line x1="445.05" y1="247.1" x2="454.55" y2="247.1" stroke="#2a0008" stroke-width="1.5"/>
<circle cx="449.6" cy="217.2" r="3.1" fill="#b8032f" stroke="#2a0008" stroke-width="1.2"/>
<circle cx="452.4" cy="224.5" r="3.1" fill="#b8032f" stroke="#2a0008" stroke-width="1.2"/>
<circle cx="447.1" cy="227.8" r="3.1" fill="#b8032f" stroke="#2a0008" stroke-width="1.2"/>
<line x1="464.2" y1="233.3" x2="464.2" y2="236.6" stroke="#111" stroke-width="1.35"/>
<line x1="461.55" y1="233.3" x2="466.85" y2="233.3" stroke="#111" stroke-width="1.35"/>
<line x1="464.2" y1="258.5" x2="464.2" y2="260" stroke="#111" stroke-width="1.35"/>
<line x1="461.55" y1="260" x2="466.85" y2="260" stroke="#111" stroke-width="1.35"/>
<rect x="459.45" y="236.6" width="9.5" height="21.9" fill="#315288" stroke="#070d26" stroke-width="1.5"/>
<line x1="459.45" y1="250.4" x2="468.95" y2="250.4" stroke="#070d26" stroke-width="1.5"/>
<line x1="488.1" y1="227.3" x2="488.1" y2="231" stroke="#111" stroke-width="1.35"/>
<line x1="485.45" y1="227.3" x2="490.75" y2="227.3" stroke="#111" stroke-width="1.35"/>
<line x1="488.1" y1="247.4" x2="488.1" y2="274.3" stroke="#111" stroke-width="1.35"/>
<line x1="485.45" y1="274.3" x2="490.75" y2="274.3" stroke="#111" stroke-width="1.35"/>
<rect x="483.35" y="231" width="9.5" height="16.4" fill="#b8032f" stroke="#2a0008" stroke-width="1.5"/>
<line x1="483.35" y1="238.6" x2="492.85" y2="238.6" stroke="#2a0008" stroke-width="1.5"/>
<circle cx="485.1" cy="209.4" r="3.1" fill="#b8032f" stroke="#2a0008" stroke-width="1.2"/>
<circle cx="491.1" cy="209.4" r="3.1" fill="#b8032f" stroke="#2a0008" stroke-width="1.2"/>
<line x1="502.5" y1="226" x2="502.5" y2="237.8" stroke="#111" stroke-width="1.35"/>
<line x1="499.85" y1="226" x2="505.15" y2="226" stroke="#111" stroke-width="1.35"/>
<line x1="499.85" y1="237.8" x2="505.15" y2="237.8" stroke="#111" stroke-width="1.35"/>
<line x1="497.75" y1="229" x2="507.25" y2="229" stroke="#111" stroke-width="1.3"/>
</g>
<g>
<text x="10.3" y="356.4" font-size="12.2" text-anchor="start" font-weight="bold" >G</text>
<text x="109.4" y="347.4" font-size="8.3" text-anchor="middle" font-weight="bold" >CD3+CD45RA+</text>
<text x="0" y="0" font-size="9.3" text-anchor="middle" transform="translate(20.6,415.9) rotate(-90)">Cells/uL</text>
<line x1="53.85" y1="359.3" x2="53.85" y2="473.6" stroke="#141414" stroke-width="1.5"/>
<line x1="53.15" y1="472.9" x2="165.15" y2="472.9" stroke="#141414" stroke-width="1.5"/>
<line x1="70.6" y1="472.9" x2="70.6" y2="475.9" stroke="#141414" stroke-width="1.1"/>
<text x="70.6" y="486.9" font-size="8.6" text-anchor="middle" font-weight="normal" >D30</text>
<line x1="109" y1="472.9" x2="109" y2="475.9" stroke="#141414" stroke-width="1.1"/>
<text x="109" y="486.9" font-size="8.6" text-anchor="middle" font-weight="normal" >D90</text>
<line x1="147.3" y1="472.9" x2="147.3" y2="475.9" stroke="#141414" stroke-width="1.1"/>
<text x="147.3" y="486.9" font-size="8.6" text-anchor="middle" font-weight="normal" >D180</text>
<line x1="50.25" y1="472.9" x2="53.85" y2="472.9" stroke="#141414" stroke-width="1.2"/>
<text x="47.05" y="475.7" font-size="8.6" text-anchor="end" font-weight="normal" >1</text>
<line x1="51.75" y1="461.82" x2="53.85" y2="461.82" stroke="#141414" stroke-width="1.1"/>
<line x1="51.75" y1="455.34" x2="53.85" y2="455.34" stroke="#141414" stroke-width="1.1"/>
<line x1="51.75" y1="450.74" x2="53.85" y2="450.74" stroke="#141414" stroke-width="1.1"/>
<line x1="51.75" y1="447.18" x2="53.85" y2="447.18" stroke="#141414" stroke-width="1.1"/>
<line x1="51.75" y1="444.26" x2="53.85" y2="444.26" stroke="#141414" stroke-width="1.1"/>
<line x1="51.75" y1="441.8" x2="53.85" y2="441.8" stroke="#141414" stroke-width="1.1"/>
<line x1="51.75" y1="439.67" x2="53.85" y2="439.67" stroke="#141414" stroke-width="1.1"/>
<line x1="51.75" y1="437.78" x2="53.85" y2="437.78" stroke="#141414" stroke-width="1.1"/>
<line x1="50.25" y1="436.1" x2="53.85" y2="436.1" stroke="#141414" stroke-width="1.2"/>
<text x="47.05" y="438.9" font-size="8.6" text-anchor="end" font-weight="normal" >10</text>
<line x1="51.75" y1="425.02" x2="53.85" y2="425.02" stroke="#141414" stroke-width="1.1"/>
<line x1="51.75" y1="418.54" x2="53.85" y2="418.54" stroke="#141414" stroke-width="1.1"/>
<line x1="51.75" y1="413.94" x2="53.85" y2="413.94" stroke="#141414" stroke-width="1.1"/>
<line x1="51.75" y1="410.38" x2="53.85" y2="410.38" stroke="#141414" stroke-width="1.1"/>
<line x1="51.75" y1="407.46" x2="53.85" y2="407.46" stroke="#141414" stroke-width="1.1"/>
<line x1="51.75" y1="405" x2="53.85" y2="405" stroke="#141414" stroke-width="1.1"/>
<line x1="51.75" y1="402.87" x2="53.85" y2="402.87" stroke="#141414" stroke-width="1.1"/>
<line x1="51.75" y1="400.98" x2="53.85" y2="400.98" stroke="#141414" stroke-width="1.1"/>
<line x1="50.25" y1="399.3" x2="53.85" y2="399.3" stroke="#141414" stroke-width="1.2"/>
<text x="47.05" y="402.1" font-size="8.6" text-anchor="end" font-weight="normal" >100</text>
<line x1="51.75" y1="388.22" x2="53.85" y2="388.22" stroke="#141414" stroke-width="1.1"/>
<line x1="51.75" y1="381.74" x2="53.85" y2="381.74" stroke="#141414" stroke-width="1.1"/>
<line x1="51.75" y1="377.14" x2="53.85" y2="377.14" stroke="#141414" stroke-width="1.1"/>
<line x1="51.75" y1="373.58" x2="53.85" y2="373.58" stroke="#141414" stroke-width="1.1"/>
<line x1="51.75" y1="370.66" x2="53.85" y2="370.66" stroke="#141414" stroke-width="1.1"/>
<line x1="51.75" y1="368.2" x2="53.85" y2="368.2" stroke="#141414" stroke-width="1.1"/>
<line x1="51.75" y1="366.07" x2="53.85" y2="366.07" stroke="#141414" stroke-width="1.1"/>
<line x1="51.75" y1="364.18" x2="53.85" y2="364.18" stroke="#141414" stroke-width="1.1"/>
<line x1="50.25" y1="362.5" x2="53.85" y2="362.5" stroke="#141414" stroke-width="1.2"/>
<text x="47.05" y="365.3" font-size="8.6" text-anchor="end" font-weight="normal" >1000</text>
<line x1="63.4" y1="441" x2="63.4" y2="451.4" stroke="#111" stroke-width="1.35"/>
<line x1="60.75" y1="441" x2="66.05" y2="441" stroke="#111" stroke-width="1.35"/>
<rect x="58.65" y="451.4" width="9.5" height="21.4" fill="#b8032f" stroke="#2a0008" stroke-width="1.5"/>
<line x1="58.65" y1="459.9" x2="68.15" y2="459.9" stroke="#2a0008" stroke-width="1.5"/>
<circle cx="60.6" cy="438" r="3.1" fill="#b8032f" stroke="#2a0008" stroke-width="1.2"/>
<circle cx="66.4" cy="438" r="3.1" fill="#b8032f" stroke="#2a0008" stroke-width="1.2"/>
<circle cx="63.8" cy="421.2" r="3.1" fill="#b8032f" stroke="#2a0008" stroke-width="1.2"/>
<line x1="77.8" y1="442.6" x2="77.8" y2="449.4" stroke="#111" stroke-width="1.35"/>
<line x1="75.15" y1="442.6" x2="80.45" y2="442.6" stroke="#111" stroke-width="1.35"/>
<rect x="73.05" y="449.4" width="9.5" height="23.4" fill="#315288" stroke="#070d26" stroke-width="1.5"/>
<line x1="73.05" y1="460.7" x2="82.55" y2="460.7" stroke="#070d26" stroke-width="1.5"/>
<line x1="101.8" y1="426.7" x2="101.8" y2="431.8" stroke="#111" stroke-width="1.35"/>
<line x1="99.15" y1="426.7" x2="104.45" y2="426.7" stroke="#111" stroke-width="1.35"/>
<line x1="101.8" y1="452.6" x2="101.8" y2="472.8" stroke="#111" stroke-width="1.35"/>
<line x1="99.15" y1="472.8" x2="104.45" y2="472.8" stroke="#111" stroke-width="1.35"/>
<rect x="97.05" y="431.8" width="9.5" height="20.8" fill="#b8032f" stroke="#2a0008" stroke-width="1.5"/>
<line x1="97.05" y1="444.8" x2="106.55" y2="444.8" stroke="#2a0008" stroke-width="1.5"/>
<circle cx="102.1" cy="409.9" r="3.1" fill="#b8032f" stroke="#2a0008" stroke-width="1.2"/>
<circle cx="97.8" cy="416.7" r="3.1" fill="#b8032f" stroke="#2a0008" stroke-width="1.2"/>
<circle cx="101.6" cy="418.4" r="3.1" fill="#b8032f" stroke="#2a0008" stroke-width="1.2"/>
<circle cx="105.8" cy="415.9" r="3.1" fill="#b8032f" stroke="#2a0008" stroke-width="1.2"/>
<line x1="116.2" y1="422.2" x2="116.2" y2="426.2" stroke="#111" stroke-width="1.35"/>
<line x1="113.55" y1="422.2" x2="118.85" y2="422.2" stroke="#111" stroke-width="1.35"/>
<line x1="116.2" y1="465.7" x2="116.2" y2="472.8" stroke="#111" stroke-width="1.35"/>
<line x1="113.55" y1="472.8" x2="118.85" y2="472.8" stroke="#111" stroke-width="1.35"/>
<rect x="111.45" y="426.2" width="9.5" height="39.5" fill="#315288" stroke="#070d26" stroke-width="1.5"/>
<line x1="111.45" y1="446.4" x2="120.95" y2="446.4" stroke="#070d26" stroke-width="1.5"/>
<line x1="140.1" y1="417.2" x2="140.1" y2="425.5" stroke="#111" stroke-width="1.35"/>
<line x1="137.45" y1="417.2" x2="142.75" y2="417.2" stroke="#111" stroke-width="1.35"/>
<line x1="140.1" y1="446.4" x2="140.1" y2="472.8" stroke="#111" stroke-width="1.35"/>
<line x1="137.45" y1="472.8" x2="142.75" y2="472.8" stroke="#111" stroke-width="1.35"/>
<rect x="135.35" y="425.5" width="9.5" height="20.9" fill="#b8032f" stroke="#2a0008" stroke-width="1.5"/>
<line x1="135.35" y1="436.8" x2="144.85" y2="436.8" stroke="#2a0008" stroke-width="1.5"/>
<circle cx="140.6" cy="392" r="3.1" fill="#b8032f" stroke="#2a0008" stroke-width="1.2"/>
<line x1="154.5" y1="406.6" x2="154.5" y2="433.8" stroke="#111" stroke-width="1.35"/>
<line x1="151.85" y1="406.6" x2="157.15" y2="406.6" stroke="#111" stroke-width="1.35"/>
<line x1="151.85" y1="433.8" x2="157.15" y2="433.8" stroke="#111" stroke-width="1.35"/>
<line x1="149.75" y1="412.1" x2="159.25" y2="412.1" stroke="#111" stroke-width="1.3"/>
</g>
<g>
<text x="180.9" y="356.4" font-size="12.2" text-anchor="start" font-weight="bold" >H</text>
<text x="282.4" y="347.4" font-size="8.3" text-anchor="middle" font-weight="bold" >CD3+CD45RO+</text>
<text x="0" y="0" font-size="9.3" text-anchor="middle" transform="translate(194.8,415.9) rotate(-90)">Cells/uL</text>
<line x1="227.85" y1="359.3" x2="227.85" y2="473.6" stroke="#141414" stroke-width="1.5"/>
<line x1="227.15" y1="472.9" x2="339.15" y2="472.9" stroke="#141414" stroke-width="1.5"/>
<line x1="244.9" y1="472.9" x2="244.9" y2="475.9" stroke="#141414" stroke-width="1.1"/>
<text x="244.9" y="486.9" font-size="8.6" text-anchor="middle" font-weight="normal" >D30</text>
<line x1="283.2" y1="472.9" x2="283.2" y2="475.9" stroke="#141414" stroke-width="1.1"/>
<text x="283.2" y="486.9" font-size="8.6" text-anchor="middle" font-weight="normal" >D90</text>
<line x1="321.6" y1="472.9" x2="321.6" y2="475.9" stroke="#141414" stroke-width="1.1"/>
<text x="321.6" y="486.9" font-size="8.6" text-anchor="middle" font-weight="normal" >D180</text>
<line x1="224.25" y1="472.9" x2="227.85" y2="472.9" stroke="#141414" stroke-width="1.2"/>
<text x="221.05" y="475.7" font-size="8.6" text-anchor="end" font-weight="normal" >1</text>
<line x1="225.75" y1="461.82" x2="227.85" y2="461.82" stroke="#141414" stroke-width="1.1"/>
<line x1="225.75" y1="455.34" x2="227.85" y2="455.34" stroke="#141414" stroke-width="1.1"/>
<line x1="225.75" y1="450.74" x2="227.85" y2="450.74" stroke="#141414" stroke-width="1.1"/>
<line x1="225.75" y1="447.18" x2="227.85" y2="447.18" stroke="#141414" stroke-width="1.1"/>
<line x1="225.75" y1="444.26" x2="227.85" y2="444.26" stroke="#141414" stroke-width="1.1"/>
<line x1="225.75" y1="441.8" x2="227.85" y2="441.8" stroke="#141414" stroke-width="1.1"/>
<line x1="225.75" y1="439.67" x2="227.85" y2="439.67" stroke="#141414" stroke-width="1.1"/>
<line x1="225.75" y1="437.78" x2="227.85" y2="437.78" stroke="#141414" stroke-width="1.1"/>
<line x1="224.25" y1="436.1" x2="227.85" y2="436.1" stroke="#141414" stroke-width="1.2"/>
<text x="221.05" y="438.9" font-size="8.6" text-anchor="end" font-weight="normal" >10</text>
<line x1="225.75" y1="425.02" x2="227.85" y2="425.02" stroke="#141414" stroke-width="1.1"/>
<line x1="225.75" y1="418.54" x2="227.85" y2="418.54" stroke="#141414" stroke-width="1.1"/>
<line x1="225.75" y1="413.94" x2="227.85" y2="413.94" stroke="#141414" stroke-width="1.1"/>
<line x1="225.75" y1="410.38" x2="227.85" y2="410.38" stroke="#141414" stroke-width="1.1"/>
<line x1="225.75" y1="407.46" x2="227.85" y2="407.46" stroke="#141414" stroke-width="1.1"/>
<line x1="225.75" y1="405" x2="227.85" y2="405" stroke="#141414" stroke-width="1.1"/>
<line x1="225.75" y1="402.87" x2="227.85" y2="402.87" stroke="#141414" stroke-width="1.1"/>
<line x1="225.75" y1="400.98" x2="227.85" y2="400.98" stroke="#141414" stroke-width="1.1"/>
<line x1="224.25" y1="399.3" x2="227.85" y2="399.3" stroke="#141414" stroke-width="1.2"/>
<text x="221.05" y="402.1" font-size="8.6" text-anchor="end" font-weight="normal" >100</text>
<line x1="225.75" y1="388.22" x2="227.85" y2="388.22" stroke="#141414" stroke-width="1.1"/>
<line x1="225.75" y1="381.74" x2="227.85" y2="381.74" stroke="#141414" stroke-width="1.1"/>
<line x1="225.75" y1="377.14" x2="227.85" y2="377.14" stroke="#141414" stroke-width="1.1"/>
<line x1="225.75" y1="373.58" x2="227.85" y2="373.58" stroke="#141414" stroke-width="1.1"/>
<line x1="225.75" y1="370.66" x2="227.85" y2="370.66" stroke="#141414" stroke-width="1.1"/>
<line x1="225.75" y1="368.2" x2="227.85" y2="368.2" stroke="#141414" stroke-width="1.1"/>
<line x1="225.75" y1="366.07" x2="227.85" y2="366.07" stroke="#141414" stroke-width="1.1"/>
<line x1="225.75" y1="364.18" x2="227.85" y2="364.18" stroke="#141414" stroke-width="1.1"/>
<line x1="224.25" y1="362.5" x2="227.85" y2="362.5" stroke="#141414" stroke-width="1.2"/>
<text x="221.05" y="365.3" font-size="8.6" text-anchor="end" font-weight="normal" >1000</text>
<line x1="237.7" y1="407.9" x2="237.7" y2="416.7" stroke="#111" stroke-width="1.35"/>
<line x1="235.05" y1="407.9" x2="240.35" y2="407.9" stroke="#111" stroke-width="1.35"/>
<line x1="237.7" y1="443.6" x2="237.7" y2="473" stroke="#111" stroke-width="1.35"/>
<line x1="235.05" y1="473" x2="240.35" y2="473" stroke="#111" stroke-width="1.35"/>
<rect x="232.95" y="416.7" width="9.5" height="26.9" fill="#b8032f" stroke="#2a0008" stroke-width="1.5"/>
<line x1="232.95" y1="427.5" x2="242.45" y2="427.5" stroke="#2a0008" stroke-width="1.5"/>
<circle cx="235.6" cy="394.8" r="3.1" fill="#b8032f" stroke="#2a0008" stroke-width="1.2"/>
<circle cx="238.9" cy="391.5" r="3.1" fill="#b8032f" stroke="#2a0008" stroke-width="1.2"/>
<circle cx="237.6" cy="395.8" r="3.1" fill="#b8032f" stroke="#2a0008" stroke-width="1.2"/>
<circle cx="237.1" cy="402.3" r="3.1" fill="#b8032f" stroke="#2a0008" stroke-width="1.2"/>
<line x1="252.1" y1="403.6" x2="252.1" y2="414.2" stroke="#111" stroke-width="1.35"/>
<line x1="249.45" y1="403.6" x2="254.75" y2="403.6" stroke="#111" stroke-width="1.35"/>
<line x1="252.1" y1="435" x2="252.1" y2="460.7" stroke="#111" stroke-width="1.35"/>
<line x1="249.45" y1="460.7" x2="254.75" y2="460.7" stroke="#111" stroke-width="1.35"/>
<rect x="247.35" y="414.2" width="9.5" height="20.8" fill="#315288" stroke="#070d26" stroke-width="1.5"/>
<line x1="247.35" y1="424.7" x2="256.85" y2="424.7" stroke="#070d26" stroke-width="1.5"/>
<line x1="276" y1="387.2" x2="276" y2="395.3" stroke="#111" stroke-width="1.35"/>
<line x1="273.35" y1="387.2" x2="278.65" y2="387.2" stroke="#111" stroke-width="1.35"/>
<line x1="276" y1="410.4" x2="276" y2="473" stroke="#111" stroke-width="1.35"/>
<line x1="273.35" y1="473" x2="278.65" y2="473" stroke="#111" stroke-width="1.35"/>
<rect x="271.25" y="395.3" width="9.5" height="15.1" fill="#b8032f" stroke="#2a0008" stroke-width="1.5"/>
<line x1="271.25" y1="401.6" x2="280.75" y2="401.6" stroke="#2a0008" stroke-width="1.5"/>
<circle cx="275.8" cy="365.6" r="3.1" fill="#b8032f" stroke="#2a0008" stroke-width="1.2"/>
<circle cx="275.8" cy="378.2" r="3.1" fill="#b8032f" stroke="#2a0008" stroke-width="1.2"/>
<line x1="290.4" y1="406.8" x2="290.4" y2="418.9" stroke="#111" stroke-width="1.35"/>
<line x1="287.75" y1="418.9" x2="293.05" y2="418.9" stroke="#111" stroke-width="1.35"/>
<rect x="285.65" y="396.6" width="9.5" height="10.2" fill="#315288" stroke="#070d26" stroke-width="1.5"/>
<line x1="285.65" y1="397.8" x2="295.15" y2="397.8" stroke="#070d26" stroke-width="1.5"/>
<rect x="287.4" y="365.4" width="6.0" height="6.0" fill="#315288" stroke="#070d26" stroke-width="1.2"/>
<line x1="314.4" y1="381.4" x2="314.4" y2="385.2" stroke="#111" stroke-width="1.35"/>
<line x1="311.75" y1="381.4" x2="317.05" y2="381.4" stroke="#111" stroke-width="1.35"/>
<line x1="314.4" y1="398.6" x2="314.4" y2="404.8" stroke="#111" stroke-width="1.35"/>
<line x1="311.75" y1="404.8" x2="317.05" y2="404.8" stroke="#111" stroke-width="1.35"/>
<rect x="309.65" y="385.2" width="9.5" height="13.4" fill="#b8032f" stroke="#2a0008" stroke-width="1.5"/>
<line x1="309.65" y1="389.5" x2="319.15" y2="389.5" stroke="#2a0008" stroke-width="1.5"/>
<circle cx="311.8" cy="372.6" r="3.1" fill="#b8032f" stroke="#2a0008" stroke-width="1.2"/>
<circle cx="317.4" cy="372.6" r="3.1" fill="#b8032f" stroke="#2a0008" stroke-width="1.2"/>
<line x1="328.8" y1="377.2" x2="328.8" y2="382.7" stroke="#111" stroke-width="1.35"/>
<line x1="326.15" y1="377.2" x2="331.45" y2="377.2" stroke="#111" stroke-width="1.35"/>
<line x1="326.15" y1="382.7" x2="331.45" y2="382.7" stroke="#111" stroke-width="1.35"/>
<line x1="324.05" y1="382.7" x2="333.55" y2="382.7" stroke="#111" stroke-width="1.3"/>
</g>
<g>
<text x="359.8" y="356.4" font-size="12.2" text-anchor="start" font-weight="bold" >I</text>
<text x="457" y="347.4" font-size="8.3" text-anchor="middle" font-weight="bold" >CD19+</text>
<text x="0" y="0" font-size="9.3" text-anchor="middle" transform="translate(368.7,415.9) rotate(-90)">Cells/uL</text>
<line x1="401.85" y1="359.3" x2="401.85" y2="473.6" stroke="#141414" stroke-width="1.5"/>
<line x1="401.15" y1="472.9" x2="513.15" y2="472.9" stroke="#141414" stroke-width="1.5"/>
<line x1="418.7" y1="472.9" x2="418.7" y2="475.9" stroke="#141414" stroke-width="1.1"/>
<text x="418.7" y="486.9" font-size="8.6" text-anchor="middle" font-weight="normal" >D30</text>
<line x1="457" y1="472.9" x2="457" y2="475.9" stroke="#141414" stroke-width="1.1"/>
<text x="457" y="486.9" font-size="8.6" text-anchor="middle" font-weight="normal" >D90</text>
<line x1="495.3" y1="472.9" x2="495.3" y2="475.9" stroke="#141414" stroke-width="1.1"/>
<text x="495.3" y="486.9" font-size="8.6" text-anchor="middle" font-weight="normal" >D180</text>
<line x1="398.25" y1="472.9" x2="401.85" y2="472.9" stroke="#141414" stroke-width="1.2"/>
<text x="395.05" y="475.7" font-size="8.6" text-anchor="end" font-weight="normal" >1</text>
<line x1="399.75" y1="461.82" x2="401.85" y2="461.82" stroke="#141414" stroke-width="1.1"/>
<line x1="399.75" y1="455.34" x2="401.85" y2="455.34" stroke="#141414" stroke-width="1.1"/>
<line x1="399.75" y1="450.74" x2="401.85" y2="450.74" stroke="#141414" stroke-width="1.1"/>
<line x1="399.75" y1="447.18" x2="401.85" y2="447.18" stroke="#141414" stroke-width="1.1"/>
<line x1="399.75" y1="444.26" x2="401.85" y2="444.26" stroke="#141414" stroke-width="1.1"/>
<line x1="399.75" y1="441.8" x2="401.85" y2="441.8" stroke="#141414" stroke-width="1.1"/>
<line x1="399.75" y1="439.67" x2="401.85" y2="439.67" stroke="#141414" stroke-width="1.1"/>
<line x1="399.75" y1="437.78" x2="401.85" y2="437.78" stroke="#141414" stroke-width="1.1"/>
<line x1="398.25" y1="436.1" x2="401.85" y2="436.1" stroke="#141414" stroke-width="1.2"/>
<text x="395.05" y="438.9" font-size="8.6" text-anchor="end" font-weight="normal" >10</text>
<line x1="399.75" y1="425.02" x2="401.85" y2="425.02" stroke="#141414" stroke-width="1.1"/>
<line x1="399.75" y1="418.54" x2="401.85" y2="418.54" stroke="#141414" stroke-width="1.1"/>
<line x1="399.75" y1="413.94" x2="401.85" y2="413.94" stroke="#141414" stroke-width="1.1"/>
<line x1="399.75" y1="410.38" x2="401.85" y2="410.38" stroke="#141414" stroke-width="1.1"/>
<line x1="399.75" y1="407.46" x2="401.85" y2="407.46" stroke="#141414" stroke-width="1.1"/>
<line x1="399.75" y1="405" x2="401.85" y2="405" stroke="#141414" stroke-width="1.1"/>
<line x1="399.75" y1="402.87" x2="401.85" y2="402.87" stroke="#141414" stroke-width="1.1"/>
<line x1="399.75" y1="400.98" x2="401.85" y2="400.98" stroke="#141414" stroke-width="1.1"/>
<line x1="398.25" y1="399.3" x2="401.85" y2="399.3" stroke="#141414" stroke-width="1.2"/>
<text x="395.05" y="402.1" font-size="8.6" text-anchor="end" font-weight="normal" >100</text>
<line x1="399.75" y1="388.22" x2="401.85" y2="388.22" stroke="#141414" stroke-width="1.1"/>
<line x1="399.75" y1="381.74" x2="401.85" y2="381.74" stroke="#141414" stroke-width="1.1"/>
<line x1="399.75" y1="377.14" x2="401.85" y2="377.14" stroke="#141414" stroke-width="1.1"/>
<line x1="399.75" y1="373.58" x2="401.85" y2="373.58" stroke="#141414" stroke-width="1.1"/>
<line x1="399.75" y1="370.66" x2="401.85" y2="370.66" stroke="#141414" stroke-width="1.1"/>
<line x1="399.75" y1="368.2" x2="401.85" y2="368.2" stroke="#141414" stroke-width="1.1"/>
<line x1="399.75" y1="366.07" x2="401.85" y2="366.07" stroke="#141414" stroke-width="1.1"/>
<line x1="399.75" y1="364.18" x2="401.85" y2="364.18" stroke="#141414" stroke-width="1.1"/>
<line x1="398.25" y1="362.5" x2="401.85" y2="362.5" stroke="#141414" stroke-width="1.2"/>
<text x="395.05" y="365.3" font-size="8.6" text-anchor="end" font-weight="normal" >1000</text>
<line x1="411.5" y1="453.1" x2="411.5" y2="464.5" stroke="#111" stroke-width="1.35"/>
<line x1="408.85" y1="453.1" x2="414.15" y2="453.1" stroke="#111" stroke-width="1.35"/>
<rect x="406.75" y="464.5" width="9.5" height="8.5" fill="#b8032f" stroke="#2a0008" stroke-width="1.5"/>
<line x1="406.75" y1="472.6" x2="416.25" y2="472.6" stroke="#2a0008" stroke-width="1.5"/>
<circle cx="411.4" cy="377.2" r="3.1" fill="#b8032f" stroke="#2a0008" stroke-width="1.2"/>
<circle cx="411.4" cy="419.9" r="3.1" fill="#b8032f" stroke="#2a0008" stroke-width="1.2"/>
<circle cx="411.4" cy="438.6" r="3.1" fill="#b8032f" stroke="#2a0008" stroke-width="1.2"/>
<circle cx="411.4" cy="449.9" r="3.1" fill="#b8032f" stroke="#2a0008" stroke-width="1.2"/>
<line x1="425.9" y1="439.8" x2="425.9" y2="444.8" stroke="#111" stroke-width="1.35"/>
<line x1="423.25" y1="439.8" x2="428.55" y2="439.8" stroke="#111" stroke-width="1.35"/>
<rect x="421.15" y="444.8" width="9.5" height="28.2" fill="#315288" stroke="#070d26" stroke-width="1.5"/>
<line x1="421.15" y1="472.6" x2="430.65" y2="472.6" stroke="#070d26" stroke-width="1.5"/>
<line x1="449.8" y1="376.9" x2="449.8" y2="388.2" stroke="#111" stroke-width="1.35"/>
<line x1="447.15" y1="376.9" x2="452.45" y2="376.9" stroke="#111" stroke-width="1.35"/>
<line x1="449.8" y1="429.7" x2="449.8" y2="473" stroke="#111" stroke-width="1.35"/>
<line x1="447.15" y1="473" x2="452.45" y2="473" stroke="#111" stroke-width="1.35"/>
<rect x="445.05" y="388.2" width="9.5" height="41.5" fill="#b8032f" stroke="#2a0008" stroke-width="1.5"/>
<line x1="445.05" y1="400.3" x2="454.55" y2="400.3" stroke="#2a0008" stroke-width="1.5"/>
<circle cx="447.3" cy="370.6" r="3.1" fill="#b8032f" stroke="#2a0008" stroke-width="1.2"/>
<circle cx="452.4" cy="368.9" r="3.1" fill="#b8032f" stroke="#2a0008" stroke-width="1.2"/>
<line x1="464.2" y1="381.4" x2="464.2" y2="386.5" stroke="#111" stroke-width="1.35"/>
<line x1="461.55" y1="381.4" x2="466.85" y2="381.4" stroke="#111" stroke-width="1.35"/>
<line x1="464.2" y1="419.7" x2="464.2" y2="473" stroke="#111" stroke-width="1.35"/>
<line x1="461.55" y1="473" x2="466.85" y2="473" stroke="#111" stroke-width="1.35"/>
<rect x="459.45" y="386.5" width="9.5" height="33.2" fill="#315288" stroke="#070d26" stroke-width="1.5"/>
<line x1="459.45" y1="392.8" x2="468.95" y2="392.8" stroke="#070d26" stroke-width="1.5"/>
<line x1="488.1" y1="375.2" x2="488.1" y2="385.2" stroke="#111" stroke-width="1.35"/>
<line x1="485.45" y1="375.2" x2="490.75" y2="375.2" stroke="#111" stroke-width="1.35"/>
<line x1="488.1" y1="419.7" x2="488.1" y2="473" stroke="#111" stroke-width="1.35"/>
<line x1="485.45" y1="473" x2="490.75" y2="473" stroke="#111" stroke-width="1.35"/>
<rect x="483.35" y="385.2" width="9.5" height="34.5" fill="#b8032f" stroke="#2a0008" stroke-width="1.5"/>
<line x1="483.35" y1="393.5" x2="492.85" y2="393.5" stroke="#2a0008" stroke-width="1.5"/>
<circle cx="488.1" cy="365.8" r="3.1" fill="#b8032f" stroke="#2a0008" stroke-width="1.2"/>
<line x1="502.5" y1="424.2" x2="502.5" y2="431" stroke="#111" stroke-width="1.35"/>
<line x1="499.85" y1="431" x2="505.15" y2="431" stroke="#111" stroke-width="1.35"/>
<rect x="497.75" y="381.4" width="9.5" height="42.8" fill="#315288" stroke="#070d26" stroke-width="1.5"/>
<line x1="497.75" y1="397" x2="507.25" y2="397" stroke="#070d26" stroke-width="1.5"/>
</g>
<rect x="0.5" y="0.5" width="519" height="496" fill="none" stroke="#000" stroke-width="1"/>
</svg>
</body></html>
